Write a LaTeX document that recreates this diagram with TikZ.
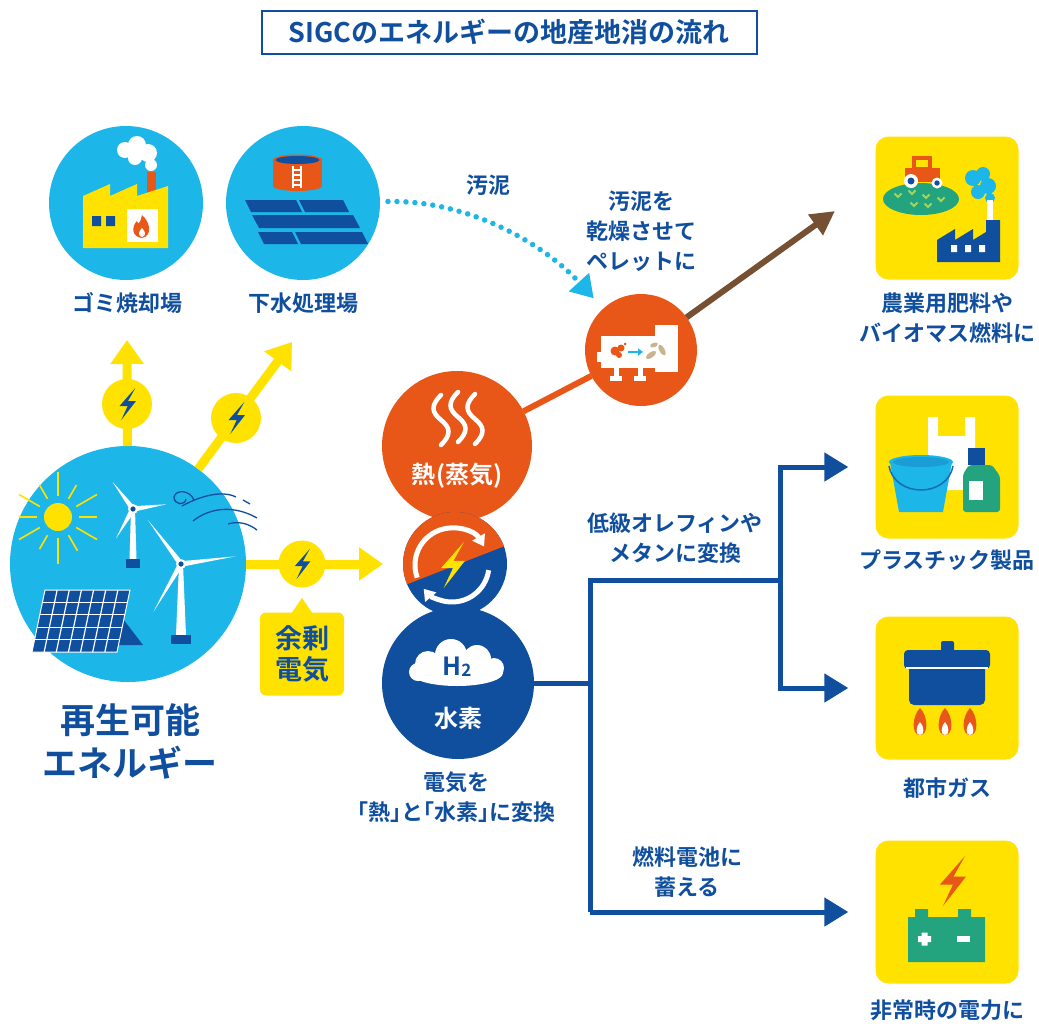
\documentclass[tikz,border=0pt]{standalone}
\usepackage{fontspec}
\setmainfont{Noto Sans CJK JP}[BoldFont={Noto Sans CJK JP Bold}]
\usetikzlibrary{arrows.meta,calc,positioning}

\definecolor{skyblue}{RGB}{29,182,232}
\definecolor{navy}{RGB}{16,78,158}
\definecolor{sunyellow}{RGB}{255,226,0}
\definecolor{heatorange}{RGB}{232,86,24}
\definecolor{mudbrown}{RGB}{118,80,50}
\definecolor{leafgreen}{RGB}{36,164,126}
\definecolor{sprout}{RGB}{165,212,92}
\definecolor{pelletbeige}{RGB}{200,180,140}

% lightning bolt: centre, height, colour
\newcommand{\bolt}[3]{\fill[#3,shift={(#1)},scale=#2] (0.26,-0.5) -- (-0.24,0.07) -- (0.02,0.07) -- (-0.18,0.5) -- (0.28,-0.09) -- (0.03,-0.09) -- cycle;}

% wind turbine: hub, blade length, tower height, foot half width
\newcommand{\turbine}[4]{%
  \fill[white] ($(#1)+(-2,0)$) -- ($(#1)+(2,0)$) -- ($(#1)+(0.5*#4,#3)$) -- ($(#1)+(-0.5*#4,#3)$) -- cycle;
  \foreach \a in {127,8,240}
    \fill[white] ($(#1)+(\a+90:2.8pt)$) -- ($(#1)+(\a:#2)$) -- ($(#1)+(\a-90:2.8pt)$) -- cycle;
  \fill[white] (#1) circle (5pt);
  \fill[navy] (#1) circle (2.6pt);
  \fill[navy] ($(#1)+(-#4,#3)$) rectangle ($(#1)+(#4,#3+9)$);
}

\begin{document}
\begin{tikzpicture}[x=1pt,y=-1pt,
  disc/.style={circle,inner sep=0pt,outer sep=0pt},
  spark/.style={disc,fill=sunyellow,minimum size=50pt},
  goal/.style={rectangle,rounded corners=13pt,fill=sunyellow,minimum size=143pt,inner sep=0pt},
  note/.style={font=\bfseries\fontsize{22}{30}\selectfont\addfontfeature{RawFeature=+halt},text=navy,align=center},
  power/.style={draw=sunyellow,line width=9pt,-{Triangle[length=24pt,width=32pt]}},
  flow/.style={draw=navy,line width=5pt},
  flowtip/.style={flow,-{Triangle[length=24pt,width=28pt]}},
  tile/.style={fill=navy},
]
\fill[white] (0,0) rectangle (1039,1023);
\useasboundingbox (0,0) rectangle (1039,1023);

\node[draw=navy,line width=2pt,minimum width=495pt,minimum height=43pt,inner sep=0pt,
  text=navy,font=\bfseries\fontsize{27}{27}\selectfont] (title) at (509,32) {SIGCのエネルギーの地産地消の流れ};

% free ends of the arrows
\coordinate (toGomi) at (127,340);
\coordinate (toGesui) at (292,342);
\coordinate (inlet) at (383,564);
\coordinate (fieldEnd) at (835,211);

% main circles and the product boxes
\node[disc,fill=skyblue,minimum size=236pt] (renew) at (128,564) {};
\node[disc,fill=skyblue,minimum size=154pt] (gomi) at (126,203) {};
\node[disc,fill=skyblue,minimum size=154pt] (gesui) at (303,203) {};
\node[disc,fill=heatorange,minimum size=150pt] (heat) at (457,446) {};
\node[disc,fill=navy,minimum size=152pt] (hydrogen) at (458,683) {};
\node[disc,minimum size=104pt] (conv) at (455,564) {};
\node[disc,fill=heatorange,minimum size=112pt] (pellet) at (641,350) {};
\node[goal] (agri) at (947,208) {};
\node[goal] (plastic) at (947,467) {};
\node[goal] (citygas) at (947,688) {};
\node[goal] (backup) at (947,912) {};

% electricity
\draw[power] (renew) -- (toGomi);
\draw[power] (renew) -- (toGesui);
\draw[power] (renew) -- (inlet);
\node[spark] (sparkGomi) at (127,404) {};
\node[spark] (sparkGesui) at (236,418) {};
\node[spark,minimum size=47pt] (sparkSurplus) at (302,564) {};
\bolt{sparkGomi}{32}{navy}
\bolt{sparkGesui}{32}{navy}
\bolt{sparkSurplus}{30}{navy}
\fill[sunyellow] (291,614) -- (302,598) -- (313,614) -- cycle;
\node[rectangle,rounded corners=6pt,fill=sunyellow,minimum width=84pt,minimum height=83pt,
  note,font=\bfseries\fontsize{27}{31}\selectfont] (surplus) at (302,654) {余剰\\電気};

% heat, pellets and hydrogen
\draw[line width=6pt,heatorange] (heat) -- (pellet);
\draw[line width=6pt,mudbrown,-{Triangle[length=24pt,width=24pt]}] (pellet) -- (fieldEnd);
\draw[skyblue,line width=5.5pt,line cap=round,dash pattern=on 0pt off 9pt,shorten <=8pt,shorten >=14pt,
  -{Triangle[length=22pt,width=26pt]}] (gesui) .. controls (470,200) and (545,245) .. (pellet);

\coordinate (fork) at (590,683);
\coordinate (olefin) at (590,580);
\coordinate (split) at (780,580);
\coordinate (fuel) at (590,912);
\draw[flow] (hydrogen) -- (fork);
\draw[flow] (split) -- (olefin) -- (fuel);
\draw[flowtip] (split) |- ([xshift=-27pt]plastic.west);
\draw[flowtip] (split) |- ([xshift=-27pt]citygas.west);
\draw[flowtip] (fuel) -- ([xshift=-27pt]backup.west);

% conversion disc
\begin{scope}
  \clip (conv.center) circle (52pt);
  \fill[navy] (395,505) rectangle (515,625);
  \fill[heatorange] (395,589) -- (515,542) -- (515,505) -- (395,505) -- cycle;
\end{scope}
\draw[white,line width=5pt,-{Triangle[length=11pt,width=14pt]}] ($(452,565)+(200:37pt)$) arc[start angle=200,end angle=30,radius=37pt];
\draw[white,line width=5pt,-{Triangle[length=11pt,width=14pt]}] ($(452,565)+(-8:37pt)$) arc[start angle=-8,end angle=-140,radius=37pt];
\bolt{452,565}{46}{sunyellow}

% steam
\foreach \sx/\dy in {441/2,458/-1,475/1}
  \draw[white,line width=4.5pt,line cap=round] (\sx,393+\dy) .. controls (\sx-10,403+\dy) and (\sx-10,410+\dy) .. (\sx,418+\dy) .. controls (\sx+10,426+\dy) and (\sx+10,433+\dy) .. (\sx,443+\dy);
\node[text=white,font=\bfseries\fontsize{24}{24}\selectfont] (heatText) at (457,476) {熱\hspace{1pt}(蒸気)};

% hydrogen cloud
\fill[white] (457,673) ellipse (46pt and 13pt);
\fill[white] (428,664) circle (13pt) (451,655) circle (16pt) (477,659) circle (14pt) (494,668) circle (10pt) (418,672) circle (9pt);
\node[text=navy,font=\bfseries\fontsize{25}{25}\selectfont] (h2Text) at (457,667) {H\raisebox{-1pt}{\fontsize{17}{17}\selectfont 2}};
\node[text=white,font=\bfseries\fontsize{24}{24}\selectfont] (h2Name) at (458,718) {水素};

% pellet dryer
\fill[white] (601,336) rectangle (668,368);
\fill[white] (655,325) rectangle (678,372);
\fill[white] (597,352) rectangle (602,362);
\foreach \lx in {616,640} {
  \fill[white] (\lx-2.5,366) rectangle (\lx+2.5,378);
  \fill[white] (\lx-6,376) rectangle (\lx+6,381);
}
\fill[heatorange] (615,351) circle (4.5pt) (621,348) circle (3.5pt) (619,355) circle (3pt) (625,344) circle (1.5pt);
\draw[skyblue,line width=2.5pt,-{Triangle[length=5pt,width=7pt]}] (628,352) -- (643,352);
\fill[pelletbeige,rotate around={35:(651,355)}] (651,355) ellipse (6pt and 2.6pt);
\fill[pelletbeige,rotate around={-60:(662,350)}] (662,350) ellipse (6pt and 2.6pt);
\fill[pelletbeige,rotate around={20:(654,345)}] (654,345) ellipse (4pt and 2.2pt);

% incinerator
\fill[heatorange] (147,172) rectangle (156,196);
\fill[white] (125,150) circle (8pt) (137,145) circle (9pt) (148,153) circle (9pt) (151,165) circle (6pt) (135,158) circle (7pt);
\fill[sunyellow] (83,248) -- (83,196) -- (110,184) -- (110,196) -- (137,184) -- (137,196) -- (168,186) -- (168,248) -- cycle;
\fill[navy] (92,216) rectangle (101,226) (106,216) rectangle (115,226);
\fill[white] (127,209) rectangle (158,242);
\fill[heatorange] (142,215) .. controls (151,223) and (152,236) .. (142,238) .. controls (132,237) and (131,227) .. (137,221) .. controls (138,225) and (140,224) .. (142,215);
\fill[white] (142,228) .. controls (146,232) and (146,236) .. (142,237) .. controls (138,236) and (138,232) .. (142,228);

% sewage works
\fill[heatorange] (273,160) rectangle (322,186);
\fill[heatorange] (297.5,186) ellipse (24.5pt and 5pt);
\fill[heatorange] (297.5,160) ellipse (24.5pt and 5.5pt);
\fill[navy] (297.5,160) ellipse (22pt and 4pt);
\draw[white,line width=1.2pt] (293,166) -- (293,188) (301,166) -- (301,188);
\foreach \ry in {170,175,...,185}
  \draw[white,line width=1.2pt] (293,\ry) -- (301,\ry);
\fill[tile] (245,200) -- (296,200) -- (302,212) -- (251,212) -- cycle;
\fill[tile] (299,200) -- (343,200) -- (349,212) -- (305,212) -- cycle;
\fill[tile] (252,215) -- (353,215) -- (360,228) -- (259,228) -- cycle;
\fill[tile] (258,232) -- (292,232) -- (298,244) -- (264,244) -- cycle;
\fill[tile] (295,232) -- (362,232) -- (368,244) -- (301,244) -- cycle;

% sun, wind and solar panel
\fill[sunyellow] (58,517) circle (14pt);
\foreach \a/\l in {0/18,30/24,60/16,90/24,120/16,150/24,180/18,210/24,240/16,270/26,300/18,330/24}
  \draw[sunyellow,line width=1.6pt] ($(58,517)+(\a:21pt)$) -- ++(\a:\l pt);
\turbine{133,509}{34pt}{50}{7}
\turbine{181,564}{55pt}{71}{10}
\draw[navy,line width=1.3pt] (194,500) .. controls (190,490) and (176,489) .. (174,497) .. controls (174,505) and (185,506) .. (186,499);
\draw[navy,line width=1.3pt] (182,506) .. controls (200,496) and (222,490) .. (236,497);
\draw[navy,line width=1.3pt] (193,521) .. controls (212,506) and (236,506) .. (257,518);
\draw[navy,line width=1.3pt] (228,524) .. controls (238,521) and (248,523) .. (257,530);
\draw[navy,line width=1.3pt] (243,500) -- (250,504);
\fill[navy] (112,615) -- (120,615) -- (143,645) -- (112,645) -- cycle;
\fill[navy] (45,590) -- (130,590) -- (117,652) -- (32,652) -- cycle;
\foreach \i in {1,...,6}
  \draw[white,line width=1.2pt] ($(32,652)!\i/7!(117,652)$) -- ($(45,590)!\i/7!(130,590)$);
\foreach \j in {1,...,4}
  \draw[white,line width=1.2pt] ($(32,652)!\j/5!(45,590)$) -- ($(117,652)!\j/5!(130,590)$);
\draw[white,line width=1pt] (45,590) -- (130,590) -- (117,652) -- (32,652) -- cycle;

% farm and biomass plant
\fill[leafgreen] (921,199) ellipse (38pt and 16pt);
\foreach \px/\py in {898/197,912/194,926/198,914/206,928/207,941/201}
  \draw[sprout,line width=2pt] (\px-3.5,\py-3.5) -- (\px,\py) -- (\px+3.5,\py-3.5);
\fill[heatorange] (905,168) rectangle (940,182);
\fill[heatorange] (912,156) rectangle (932,170);
\fill[sunyellow] (916,160) rectangle (928,167);
\fill[white] (911,181) circle (7pt) (937,183) circle (5.5pt);
\fill[navy] (911,181) circle (3.5pt) (937,183) circle (2.7pt);
\fill[skyblue] (973,178) circle (8pt) (983,174) circle (7pt) (988,186) circle (8pt) (978,192) circle (7pt) (990,198) circle (5pt);
\fill[white] (987,200) rectangle (993,222);
\fill[navy] (937,262) -- (937,240) -- (955,229) -- (955,240) -- (973,229) -- (973,240) -- (986,232) -- (986,220) -- (1000,220) -- (1000,262) -- cycle;
\fill[white] (951,245) rectangle (957,252) (965,245) rectangle (971,252) (979,245) rectangle (985,252);

% plastic goods
\fill[white] (928,417) -- (938,417) -- (938,436) -- (965,436) -- (965,417) -- (975,417) -- (975,490) -- (928,490) -- cycle;
\fill[skyblue] (890,462) -- (952,462) -- (943,512) -- (899,512) -- cycle;
\fill[skyblue] (921,462) ellipse (32pt and 7pt);
\fill[skyblue!75!navy] (921,462) ellipse (28pt and 5pt);
\draw[navy!70!skyblue,line width=1.5pt] (889,466) .. controls (895,498) and (947,498) .. (953,466);
\fill[leafgreen,rounded corners=3pt] (963,512) -- (963,474) -- (969,465) -- (992,465) -- (1000,476) -- (1000,512) -- cycle;
\fill[navy] (968,448) rectangle (985,465);
\fill[white] (969,481) rectangle (983,500);

% city gas
\fill[navy,rounded corners=2pt] (941,641) rectangle (954,652);
\fill[navy,rounded corners=4pt] (904,650) rectangle (990,669);
\fill[navy,rounded corners=5pt] (909,665) rectangle (985,705);
\draw[white,line width=1.2pt] (906,668) -- (988,668);
\foreach \fx in {920,945,970} {
  \fill[heatorange] (\fx,708) .. controls (\fx+8,716) and (\fx+9,735) .. (\fx,735) .. controls (\fx-9,735) and (\fx-8,716) .. (\fx,708);
  \fill[white] (\fx,722) .. controls (\fx+4,726) and (\fx+5,735) .. (\fx,735) .. controls (\fx-5,735) and (\fx-4,726) .. (\fx,722);
}

% emergency power
\fill[leafgreen] (915,909) rectangle (928,918) (958,909) rectangle (971,918) (908,917) rectangle (985,962);
\fill[white] (918,936) rectangle (931,942) (921.5,932.5) rectangle (927.5,945.5);
\fill[white] (957,936) rectangle (970,942);
\bolt{952,881}{50}{heatorange}

% captions
\node[note] (gomiLabel) at (127,303) {ゴミ焼却場};
\node[note] (gesuiLabel) at (303,303) {下水処理場};
\node[note,font=\bfseries\fontsize{35}{43}\selectfont] (renewLabel) at (130,741) {再生可能\\エネルギー};
\node[note] (sludgeLabel) at (488,185) {汚泥};
\node[note] (dryLabel) at (641,231) {汚泥を\\乾燥させて\\ペレットに};
\node[note] (convLabel) at (456,797) {電気を\\「熱」と「水素」に変換};
\node[note] (olefinLabel) at (675,538) {低級オレフィンや\\メタンに変換};
\node[note] (fuelLabel) at (687,872) {燃料電池に\\蓄える};
\node[note] (agriLabel) at (947,318) {農業用肥料や\\バイオマス燃料に};
\node[note] (plasticLabel) at (947,560) {プラスチック製品};
\node[note] (gasLabel) at (947,788) {都市ガス};
\node[note] (backupLabel) at (947,1010) {非常時の電力に};
\end{tikzpicture}
\end{document}
